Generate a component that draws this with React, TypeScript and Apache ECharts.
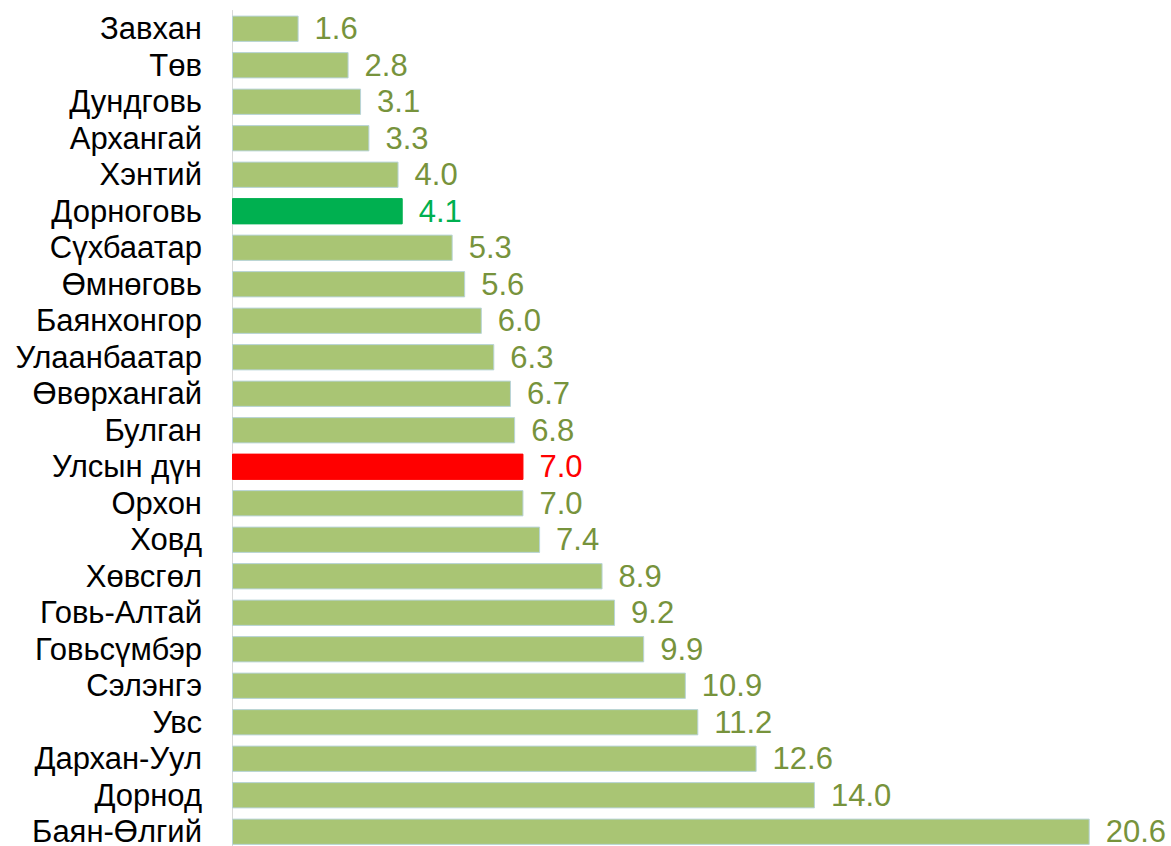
import React, { useEffect, useRef } from "react";
import * as echarts from "echarts";

const categories = [
  "Завхан", "Төв", "Дундговь", "Архангай", "Хэнтий", "Дорноговь", "Сүхбаатар",
  "Өмнөговь", "Баянхонгор", "Улаанбаатар", "Өвөрхангай", "Булган", "Улсын дүн",
  "Орхон", "Ховд", "Хөвсгөл", "Говь-Алтай", "Говьсүмбэр", "Сэлэнгэ", "Увс",
  "Дархан-Уул", "Дорнод", "Баян-Өлгий",
];
const values = [
  1.6, 2.8, 3.1, 3.3, 4.0, 4.1, 5.3, 5.6, 6.0, 6.3, 6.7, 6.8, 7.0, 7.0, 7.4,
  8.9, 9.2, 9.9, 10.9, 11.2, 12.6, 14.0, 20.6,
];
const highlightGreen = "Дорноговь";
const highlightRed = "Улсын дүн";

const BAR = "#A9C574";
const LABEL = "#77933C";

export default function App() {
  const ref = useRef<HTMLDivElement>(null);
  useEffect(() => {
    if (!ref.current) return;
    const chart = echarts.init(ref.current, null, { renderer: "svg" });
    const data = categories.map((c, i) => {
      let color = BAR;
      let border = "#B8D4D8";
      let lab = LABEL;
      if (c === highlightGreen) { color = "#00B050"; border = "#00B050"; lab = "#00B050"; }
      if (c === highlightRed) { color = "#FF0000"; border = "#FF0000"; lab = "#FF0000"; }
      return {
        value: values[i],
        itemStyle: { color, borderColor: border, borderWidth: 1 },
        label: { color: lab },
      };
    });
    chart.setOption({
      animation: false,
      grid: { left: 232, right: 23, top: 10.5, bottom: 0, containLabel: false },
      xAxis: {
        type: "value",
        min: 0,
        max: 22,
        show: false,
      },
      yAxis: {
        type: "category",
        inverse: true,
        data: categories,
        axisTick: { show: false },
        axisLine: { show: true, lineStyle: { color: "#D9D9D9", width: 1 } },
        axisLabel: {
          interval: 0,
          margin: 30,
          fontSize: 31,
          color: "#000000",
          fontFamily: "Liberation Sans, Arial, sans-serif",
        },
      },
      series: [
        {
          type: "bar",
          data,
          barCategoryGap: "28%",
          label: {
            show: true,
            position: "right",
            distance: 16,
            fontSize: 31,
            fontFamily: "Liberation Sans, Arial, sans-serif",
            formatter: (p: any) => Number(p.value).toFixed(1),
          },
        },
      ],
    });
    return () => chart.dispose();
  }, []);
  return (
    <div
      ref={ref}
      style={{ position: "fixed", left: 0, top: 0, width: 1171, height: 850, background: "#fff" }}
    />
  );
}
